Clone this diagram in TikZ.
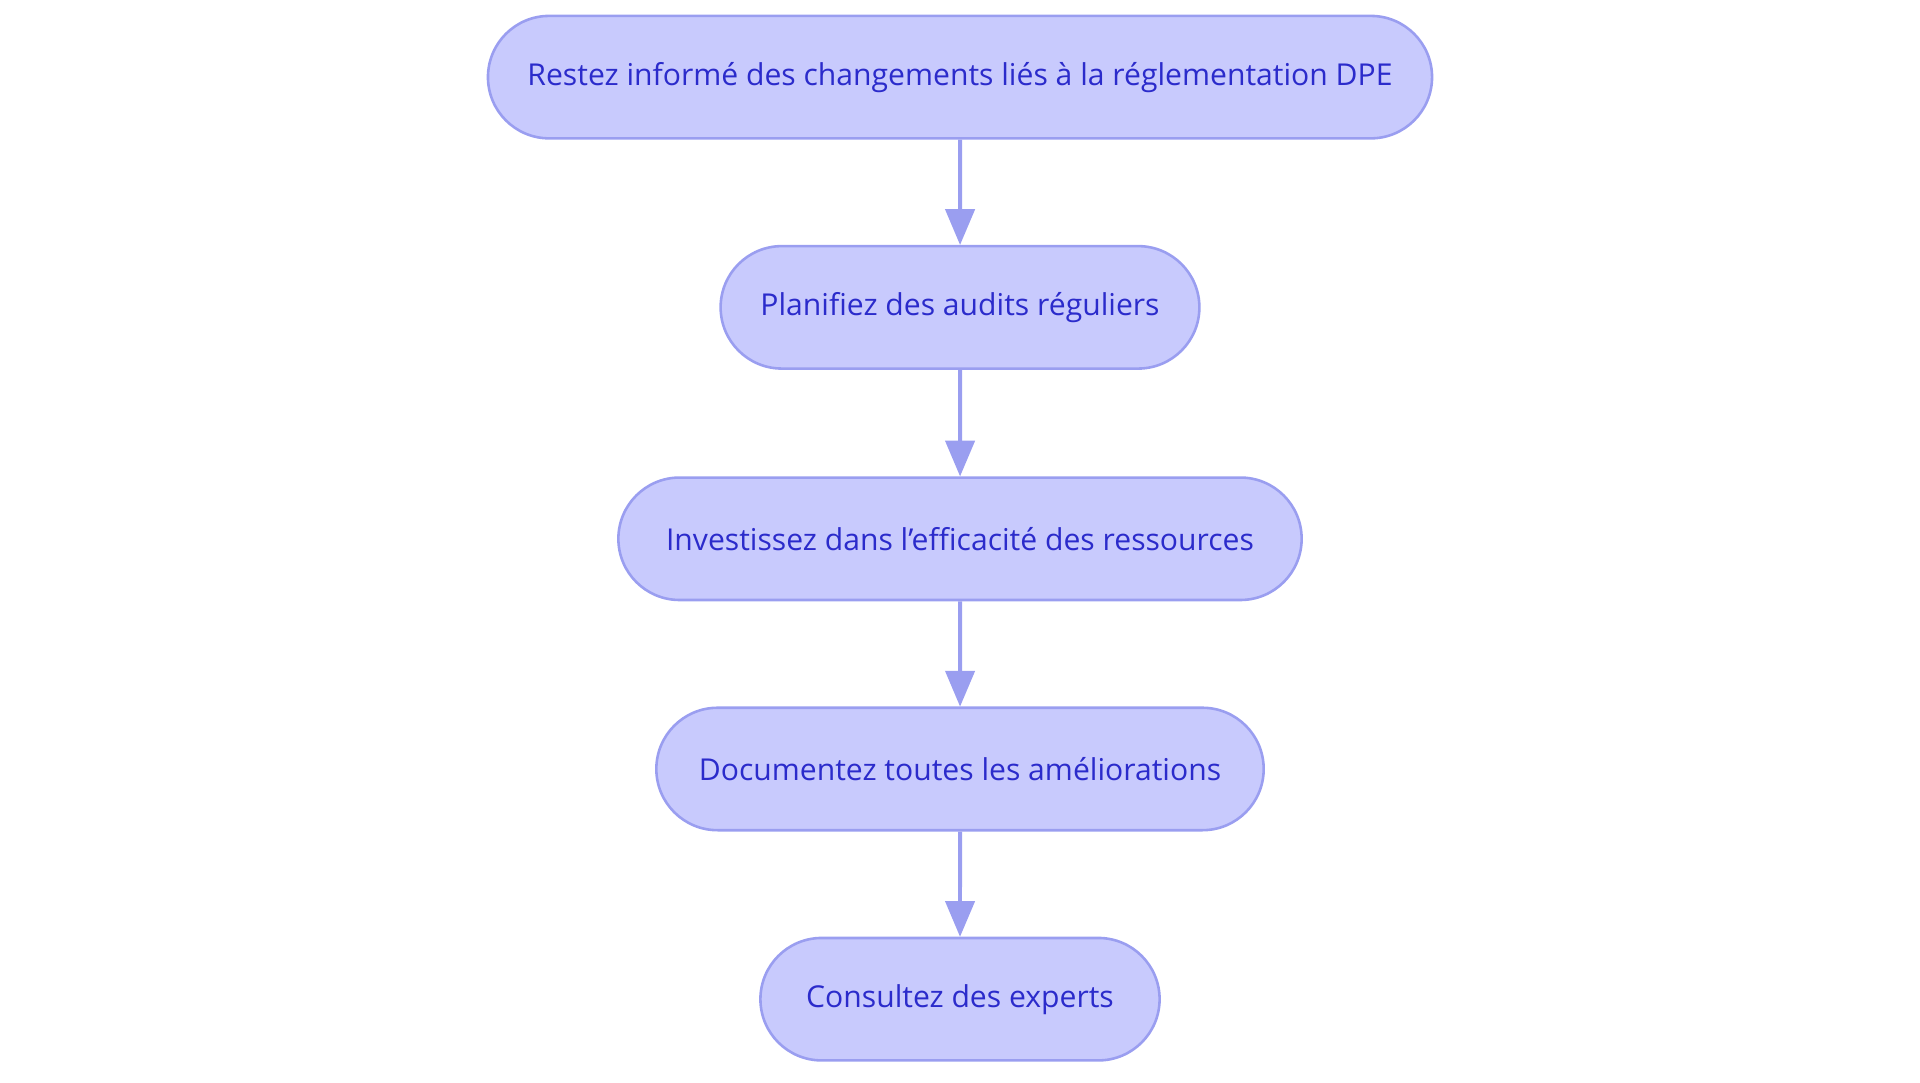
\documentclass[tikz,border=0pt]{standalone}
\usepackage{fontspec}
\setmainfont{Open Sans}
\usetikzlibrary{shapes,shapes.misc,arrows}
\definecolor{boxfill}{HTML}{C8CAFD}
\definecolor{boxline}{HTML}{9A9EF0}
\definecolor{boxtext}{HTML}{2B2BCB}
\tikzset{
  stepbox/.style={rounded rectangle, draw=boxline, fill=boxfill, text=boxtext, line width=0.6pt,
    minimum height=1cm, inner sep=0pt, font=\fontsize{7}{8}\selectfont},
  link/.style={draw=boxline, line width=0.9pt, -triangle 45}
}
\begin{document}
\begin{tikzpicture}
    \useasboundingbox (0,0) rectangle (15.68,-8.84);
    % steps
    \node[stepbox, minimum width=7.71cm] (S1) at (7.84,-0.63) {Restez informé des changements liés à la réglementation DPE};
    \node[stepbox, minimum width=3.91cm] (S2) at (7.84,-2.51) {Planifiez des audits réguliers};
    \node[stepbox, minimum width=5.58cm] (S3) at (7.84,-4.40) {Investissez dans l’efficacité des ressources};
    \node[stepbox, minimum width=4.96cm] (S4) at (7.84,-6.28) {Documentez toutes les améliorations};
    \node[stepbox, minimum width=3.26cm] (S5) at (7.84,-8.16) {Consultez des experts};

    % arrows
    \draw[link] (S1) -- (S2);
    \draw[link] (S2) -- (S3);
    \draw[link] (S3) -- (S4);
    \draw[link] (S4) -- (S5);
\end{tikzpicture}
\end{document}
